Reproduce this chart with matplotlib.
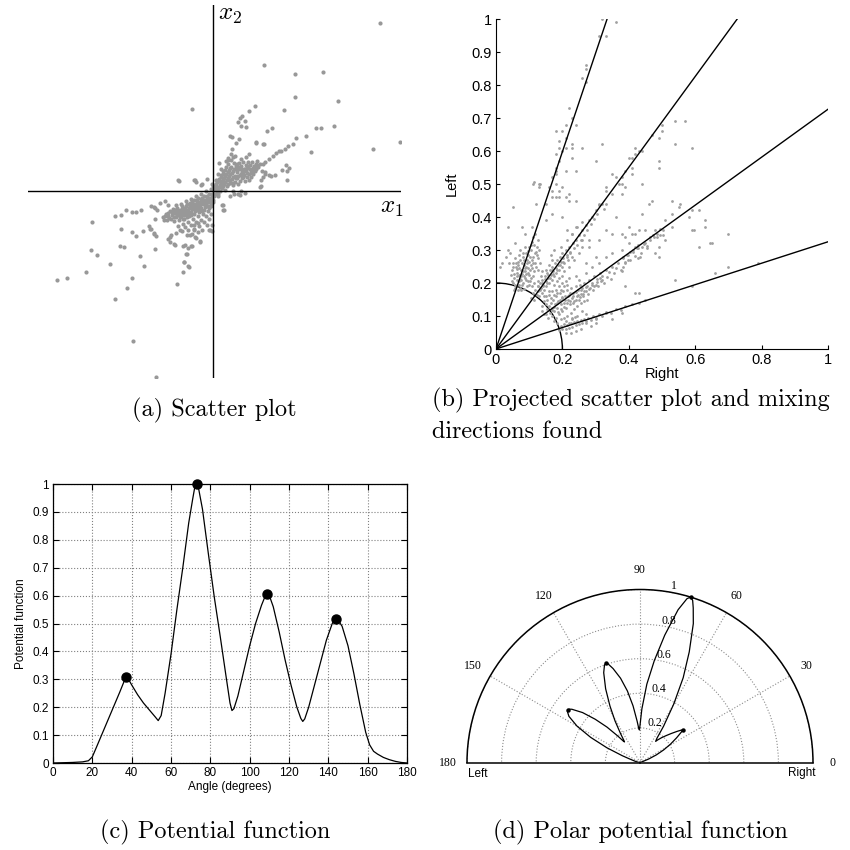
import numpy as np
import matplotlib
matplotlib.use("Agg")
import matplotlib.pyplot as plt
from matplotlib.patches import Arc

plt.rcParams['font.family'] = ['Liberation Sans', 'DejaVu Sans']
plt.rcParams['mathtext.fontset'] = 'cm'

# ---- (a) raw two-channel scatter, arbitrary units ----
scatter_outer = [
    (3.33, 3.37), (1.01, 2.53), (1.63, 2.34), (2.19, 2.39), (1.64, 1.88), (2.50, 1.81), (-0.43, 1.65),
    (0.83, 1.70), (0.71, 1.61), (1.41, 1.62), (0.58, 1.50), (0.54, 1.46), (0.63, 1.40), (0.49, 1.38),
    (0.56, 1.31), (0.66, 1.28), (1.17, 1.27), (1.08, 1.20), (2.41, 1.31), (2.06, 1.26), (2.16, 1.27),
    (1.85, 1.11), (1.66, 1.07), (1.59, 0.95), (3.19, 0.85), (3.74, 0.99), (1.95, 0.79), (0.33, 1.11),
    (0.38, 1.09), (0.51, 1.05), (0.85, 0.99), (0.99, 0.95), (0.46, 0.97), (1.49, 0.90), (1.43, 0.85),
    (1.36, 0.80), (1.31, 0.80), (1.26, 0.77), (1.19, 0.71), (1.11, 0.65), (1.03, 0.59), (0.99, 0.55),
    (1.45, 0.53), (1.51, 0.47), (1.47, 0.40), (1.38, 0.42), (1.23, 0.33), (1.16, 0.31), (1.47, 0.23),
    (1.03, 0.38), (0.99, 0.28), (0.95, 0.23), (0.96, 0.10), (-0.71, 0.22), (-0.39, 0.23), (-0.34, 0.18),
    (-0.24, 0.13), (0.39, 0.00), (0.49, -0.05), (0.56, 0.00), (0.63, -0.03), (0.19, -0.37), (0.18, -0.27),
    (0.09, -0.10), (0.33, -0.10),
    (-3.13, -1.78), (-2.93, -1.74), (-2.55, -1.61), (-2.43, -0.62), (-2.45, -1.17), (-2.32, -1.28),
    (-2.06, -1.45), (-1.97, -2.15), (-1.73, -1.93), (-1.62, -1.73), (-1.60, -3.00), (-1.15, -3.72),
    (-1.84, -0.75), (-1.86, -1.09), (-1.79, -1.11), (-1.62, -0.82), (-1.54, -0.90), (-1.47, -1.30),
    (-1.39, -1.50), (-0.73, -1.85), (-0.60, -1.61), (-0.51, -1.50), (-0.59, -1.41), (-0.54, -1.25),
    (-1.17, -1.15), (-1.97, -0.50), (-1.84, -0.47), (-1.74, -0.38), (-1.62, -0.41), (-1.55, -0.41),
    (-1.44, -0.37), (-1.41, -0.80), (-1.29, -0.70), (-1.24, -0.75), (-1.19, -0.83), (-1.14, -0.89),
    (-0.91, -0.95), (-0.86, -1.02), (-0.77, -1.07), (-0.84, -0.87), (-0.74, -0.83), (-0.67, -0.77),
    (-0.09, -0.77), (-0.02, -0.79), (-1.24, -0.30), (-1.17, -0.33), (-1.06, -0.23), (-0.97, -0.19),
    (-0.91, -0.27), (-0.61, -1.09), (-0.51, -1.13), (-0.44, -1.09), (-0.47, -0.87), (-0.34, -0.93),
    (-0.27, -1.00), (-0.39, -0.77), (-0.31, -0.63), (-1.19, -0.31), (-1.13, -0.38), (-0.99, -0.58),
    (-1.16, -0.55), (-1.26, -0.75), (-1.19, -0.85), (-0.86, -0.91), (-0.79, -1.05), (-0.56, -1.08),
    (-0.43, -1.10), (-0.59, -1.41), (-0.49, -1.51), (-0.53, -1.25), (-0.36, -0.91), (-0.26, -1.01),
    (-0.39, -0.68), (-0.06, -0.78), (-0.03, -0.68), (0.21, -0.38), (0.19, -0.28), (0.54, -0.08),
    (0.41, -0.05), (-0.69, 0.21), (-0.36, 0.23), (-0.23, 0.15), (-0.13, 0.25), (0.11, 0.57),
    (0.29, 0.63), (0.47, 0.55), (0.71, 0.75), (0.86, 0.97), (1.01, 0.95), (0.97, 0.41), (1.04, 0.35),
    (0.94, 0.09), (1.11, 0.32),
]
scatter_core = [
    (-1.00, -0.52), (-0.95, -0.45), (-0.93, -0.58), (-0.90, -0.50), (-0.87, -0.40), (-0.85, -0.55),
    (-0.82, -0.47), (-0.80, -0.36), (-0.78, -0.60), (-0.76, -0.43), (-0.74, -0.52), (-0.72, -0.33),
    (-0.70, -0.46), (-0.68, -0.58), (-0.66, -0.38), (-0.64, -0.50), (-0.62, -0.30), (-0.60, -0.42),
    (-0.58, -0.55), (-0.56, -0.34), (-0.54, -0.46), (-0.52, -0.26), (-0.50, -0.38), (-0.48, -0.50),
    (-0.46, -0.30), (-0.44, -0.42), (-0.42, -0.22), (-0.40, -0.34), (-0.38, -0.46), (-0.36, -0.26),
    (-0.34, -0.38), (-0.32, -0.18), (-0.30, -0.30), (-0.28, -0.42), (-0.26, -0.22), (-0.24, -0.34),
    (-0.22, -0.14), (-0.20, -0.26), (-0.18, -0.38), (-0.16, -0.18), (-0.14, -0.30), (-0.12, -0.10),
    (-0.10, -0.22), (-0.08, -0.34), (-0.06, -0.14), (-0.04, -0.26), (-0.02, -0.06), (0.00, -0.18),
    (-0.55, -0.20), (-0.45, -0.15), (-0.35, -0.10), (-0.25, -0.05), (-0.15, 0.00), (-0.05, 0.04),
    (-0.65, -0.25), (-0.75, -0.28), (-0.60, -0.65), (-0.50, -0.62), (-0.40, -0.55), (-0.30, -0.50),
    (-0.20, -0.45), (-0.10, -0.40), (-0.70, -0.70), (-0.57, -0.72), (-0.45, -0.68), (-0.35, -0.62),
    (-0.25, -0.58), (-0.15, -0.50), (-0.05, -0.45), (-0.62, -0.80), (-0.50, -0.78), (-0.38, -0.75),
    (-0.28, -0.70), (-0.18, -0.62), (-0.08, -0.55), (-0.52, -0.88), (-0.42, -0.85), (-0.30, -0.82),
    (-0.22, -0.78), (-0.12, -0.68),
    (-0.97, -0.50), (-0.91, -0.43), (-0.88, -0.53), (-0.83, -0.42), (-0.79, -0.52), (-0.77, -0.38),
    (-0.73, -0.47), (-0.71, -0.40), (-0.67, -0.52), (-0.65, -0.44), (-0.63, -0.36), (-0.61, -0.55),
    (-0.59, -0.48), (-0.57, -0.40), (-0.55, -0.30), (-0.53, -0.52), (-0.51, -0.44), (-0.49, -0.33),
    (-0.47, -0.23), (-0.45, -0.47), (-0.43, -0.36), (-0.41, -0.28), (-0.39, -0.18), (-0.37, -0.40),
    (-0.35, -0.32), (-0.33, -0.24), (-0.31, -0.14), (-0.29, -0.36), (-0.27, -0.28), (-0.25, -0.16),
    (-0.23, -0.40), (-0.21, -0.20), (-0.19, -0.10), (-0.17, -0.32), (-0.15, -0.24), (-0.13, -0.16),
    (-0.11, -0.30), (-0.09, -0.06), (-0.07, -0.20), (-0.05, -0.30), (-0.03, -0.12), (-0.01, -0.22),
    (-0.01, 0.03), (0.01, -0.10),
    (0.02, 0.02), (0.05, 0.10), (0.04, -0.05), (0.08, 0.18), (0.09, 0.04), (0.10, -0.06), (0.12, 0.25),
    (0.13, 0.12), (0.14, 0.00), (0.16, 0.32), (0.17, 0.20), (0.18, 0.06), (0.20, 0.40), (0.21, 0.27),
    (0.22, 0.14), (0.23, 0.02), (0.25, 0.48), (0.26, 0.35), (0.27, 0.22), (0.28, 0.10), (0.30, 0.55),
    (0.31, 0.42), (0.32, 0.30), (0.33, 0.17), (0.35, 0.62), (0.36, 0.48), (0.37, 0.36), (0.38, 0.24),
    (0.39, 0.12), (0.41, 0.56), (0.42, 0.44), (0.43, 0.31), (0.44, 0.19), (0.46, 0.50), (0.47, 0.38),
    (0.48, 0.26), (0.49, 0.14), (0.51, 0.56), (0.52, 0.44), (0.53, 0.32), (0.54, 0.20), (0.56, 0.50),
    (0.57, 0.38), (0.58, 0.26), (0.60, 0.58), (0.61, 0.45), (0.62, 0.33), (0.63, 0.21), (0.65, 0.52),
    (0.66, 0.40), (0.67, 0.28), (0.69, 0.58), (0.70, 0.46), (0.71, 0.34), (0.72, 0.22), (0.74, 0.52),
    (0.75, 0.40), (0.76, 0.28), (0.78, 0.58), (0.79, 0.46), (0.80, 0.34), (0.82, 0.50), (0.83, 0.40),
    (0.85, 0.55), (0.86, 0.44), (0.88, 0.60), (0.40, 0.68), (0.36, 0.75), (0.38, 0.85), (0.44, 0.70),
    (0.30, 0.66), (0.25, 0.60), (0.15, 0.45), (0.10, 0.35), (0.05, 0.22), (0.00, 0.10), (-0.03, 0.15),
    (0.55, 0.65), (0.65, 0.68),
    (0.03, 0.06), (0.06, 0.14), (0.07, 0.00), (0.11, 0.08), (0.11, 0.21), (0.15, 0.16), (0.15, 0.28),
    (0.19, 0.22), (0.19, 0.34), (0.19, 0.10), (0.24, 0.18), (0.24, 0.30), (0.24, 0.42), (0.29, 0.26),
    (0.29, 0.38), (0.29, 0.14), (0.34, 0.22), (0.34, 0.34), (0.34, 0.46), (0.40, 0.28), (0.40, 0.40),
    (0.40, 0.16), (0.45, 0.26), (0.45, 0.44), (0.50, 0.30), (0.50, 0.48), (0.55, 0.34), (0.55, 0.44),
    (0.60, 0.38), (0.60, 0.28), (0.64, 0.44), (0.68, 0.36), (0.68, 0.50), (0.73, 0.44), (0.77, 0.36),
    (0.81, 0.42), (0.84, 0.48), (0.87, 0.52), (0.90, 0.48), (0.93, 0.55),
]

# ---- (b) projected scatter (Right, Left) ----
proj_sparse = [
    (0.32, 1.00), (0.36, 0.99), (0.31, 0.95), (0.33, 0.95), (0.27, 0.86), (0.27, 0.85), (0.26, 0.82),
    (0.27, 0.81), (0.22, 0.73), (0.23, 0.70), (0.21, 0.68), (0.24, 0.68), (0.20, 0.66), (0.18, 0.66),
    (0.19, 0.63), (0.21, 0.64), (0.21, 0.61), (0.23, 0.62), (0.19, 0.61), (0.20, 0.60), (0.23, 0.61),
    (0.26, 0.61), (0.32, 0.62), (0.18, 0.59), (0.23, 0.58), (0.19, 0.57), (0.18, 0.55), (0.18, 0.54),
    (0.18, 0.53), (0.21, 0.54), (0.17, 0.52), (0.11, 0.50), (0.13, 0.50), (0.13, 0.49), (0.16, 0.49),
    (0.17, 0.48), (0.18, 0.50), (0.19, 0.48), (0.20, 0.49), (0.22, 0.47), (0.17, 0.46), (0.18, 0.46),
    (0.19, 0.46), (0.21, 0.46), (0.24, 0.45), (0.15, 0.44), (0.12, 0.44),
    (0.49, 0.57), (0.49, 0.64), (0.50, 0.66), (0.47, 0.65), (0.42, 0.61), (0.43, 0.60), (0.44, 0.60),
    (0.40, 0.58), (0.41, 0.55), (0.39, 0.54), (0.36, 0.52), (0.38, 0.52), (0.37, 0.50), (0.33, 0.49),
    (0.33, 0.48), (0.35, 0.47), (0.38, 0.50), (0.38, 0.47), (0.44, 0.50), (0.31, 0.44), (0.33, 0.44),
    (0.46, 0.44), (0.54, 0.69), (0.57, 0.69), (0.50, 0.68), (0.54, 0.62), (0.59, 0.61), (0.42, 0.59),
    (0.41, 0.58), (0.55, 0.43), (0.53, 0.41), (0.59, 0.42), (0.61, 0.42), (0.58, 0.40), (0.63, 0.39),
    (0.63, 0.37), (0.59, 0.36), (0.51, 0.39), (0.53, 0.37), (0.70, 0.35), (0.65, 0.32), (0.61, 0.31),
    (0.49, 0.28), (0.48, 0.29), (0.43, 0.36), (0.41, 0.35), (0.39, 0.34), (0.40, 0.32),
    (0.39, 0.19), (0.42, 0.17), (0.43, 0.17), (0.38, 0.11), (0.59, 0.19), (0.54, 0.21), (0.66, 0.23),
    (0.70, 0.25), (0.79, 0.26),
    (0.05, 0.43), (0.035, 0.37), (0.077, 0.37), (0.087, 0.35), (0.108, 0.37), (0.113, 0.505),
    (0.133, 0.50), (0.057, 0.32), (0.042, 0.29), (0.012, 0.25), (0.019, 0.26),
    (0.22, 0.45), (0.30, 0.57), (0.24, 0.54), (0.20, 0.40), (0.17, 0.41), (0.15, 0.39), (0.23, 0.35),
    (0.26, 0.33), (0.24, 0.37), (0.28, 0.31), (0.31, 0.33), (0.33, 0.36), (0.35, 0.35), (0.36, 0.40),
    (0.38, 0.35), (0.40, 0.37), (0.42, 0.35), (0.44, 0.41), (0.45, 0.36), (0.49, 0.31), (0.51, 0.33),
    (0.47, 0.45), (0.49, 0.55), (0.53, 0.45), (0.555, 0.44), (0.595, 0.36), (0.645, 0.32), (0.39, 0.49),
    (0.41, 0.53), (0.35, 0.53), (0.35, 0.09), (0.33, 0.11), (0.30, 0.09), (0.27, 0.08),
    (0.474, 0.345), (0.484, 0.340), (0.464, 0.340), (0.479, 0.360), (0.494, 0.365), (0.504, 0.360),
    (0.502, 0.345), (0.449, 0.320), (0.439, 0.310), (0.429, 0.315), (0.424, 0.305), (0.414, 0.300),
    (0.419, 0.310), (0.404, 0.295), (0.394, 0.285), (0.384, 0.280), (0.389, 0.265), (0.382, 0.250),
    (0.379, 0.235), (0.399, 0.270), (0.434, 0.280), (0.429, 0.275), (0.454, 0.312),
]
proj_dense = [
    # cloud at the foot of the steepest direction
    (0.050, 0.200), (0.055, 0.215), (0.060, 0.190), (0.062, 0.230), (0.068, 0.205), (0.070, 0.245),
    (0.072, 0.185), (0.075, 0.220), (0.078, 0.260), (0.080, 0.200), (0.082, 0.235), (0.085, 0.270),
    (0.088, 0.215), (0.090, 0.250), (0.092, 0.190), (0.095, 0.285), (0.097, 0.230), (0.100, 0.265),
    (0.102, 0.205), (0.105, 0.300), (0.108, 0.245), (0.110, 0.280), (0.112, 0.220), (0.115, 0.315),
    (0.118, 0.260), (0.120, 0.295), (0.125, 0.330), (0.128, 0.275), (0.048, 0.240), (0.052, 0.260),
    (0.058, 0.275), (0.045, 0.225), (0.065, 0.265), (0.058, 0.185), (0.066, 0.180), (0.074, 0.178),
    (0.085, 0.182), (0.095, 0.205), (0.100, 0.225), (0.105, 0.255), (0.075, 0.240), (0.083, 0.255),
    (0.070, 0.225), (0.063, 0.210), (0.088, 0.235), (0.093, 0.270), (0.098, 0.310), (0.107, 0.325),
    (0.112, 0.340), (0.118, 0.350), (0.122, 0.310), (0.130, 0.300), (0.133, 0.260), (0.125, 0.240),
    (0.115, 0.200), (0.108, 0.190), (0.053, 0.178), (0.047, 0.205), (0.080, 0.290), (0.087, 0.310),
    (0.090, 0.210), (0.097, 0.245), (0.078, 0.195), (0.060, 0.250), (0.068, 0.285), (0.072, 0.300),
    (0.103, 0.280), (0.110, 0.262), (0.040, 0.260), (0.035, 0.300), (0.030, 0.280),
    (0.057, 0.195), (0.064, 0.222), (0.071, 0.212), (0.079, 0.228), (0.086, 0.245), (0.094, 0.260),
    (0.101, 0.240), (0.109, 0.270), (0.116, 0.290), (0.123, 0.285), (0.068, 0.195), (0.076, 0.210),
    (0.083, 0.222), (0.091, 0.228), (0.099, 0.195), (0.106, 0.215), (0.113, 0.235), (0.120, 0.250),
    (0.062, 0.242), (0.066, 0.255), (0.073, 0.270), (0.081, 0.278), (0.089, 0.292), (0.096, 0.298),
    (0.104, 0.315), (0.055, 0.228), (0.051, 0.248), (0.059, 0.262),
    # band along the second direction
    (0.105, 0.155), (0.110, 0.170), (0.115, 0.150), (0.118, 0.180), (0.122, 0.165), (0.125, 0.190),
    (0.128, 0.175), (0.130, 0.160), (0.132, 0.200), (0.135, 0.185), (0.138, 0.170), (0.140, 0.210),
    (0.142, 0.195), (0.145, 0.180), (0.148, 0.220), (0.150, 0.205), (0.152, 0.190), (0.155, 0.230),
    (0.158, 0.215), (0.160, 0.200), (0.162, 0.240), (0.165, 0.225), (0.168, 0.210), (0.170, 0.250),
    (0.172, 0.235), (0.175, 0.220), (0.178, 0.260), (0.180, 0.245), (0.182, 0.230), (0.185, 0.270),
    (0.188, 0.255), (0.190, 0.240), (0.192, 0.280), (0.195, 0.265), (0.198, 0.250), (0.200, 0.290),
    (0.203, 0.275), (0.206, 0.260), (0.210, 0.300), (0.213, 0.285), (0.216, 0.270), (0.220, 0.310),
    (0.224, 0.295), (0.228, 0.280), (0.232, 0.320), (0.236, 0.305), (0.240, 0.330), (0.245, 0.315),
    (0.250, 0.345), (0.255, 0.330), (0.260, 0.360), (0.265, 0.345), (0.270, 0.375), (0.275, 0.360),
    (0.280, 0.390), (0.285, 0.380), (0.290, 0.400), (0.295, 0.395), (0.300, 0.420), (0.305, 0.410),
    (0.310, 0.435), (0.150, 0.240), (0.160, 0.255), (0.170, 0.270), (0.135, 0.220), (0.145, 0.160),
    (0.160, 0.175), (0.175, 0.195), (0.190, 0.215), (0.205, 0.235), (0.125, 0.205), (0.140, 0.235),
    (0.165, 0.285), (0.175, 0.300), (0.195, 0.310), (0.215, 0.330), (0.185, 0.205), (0.200, 0.220),
    (0.220, 0.250), (0.235, 0.270), (0.230, 0.350), (0.250, 0.290), (0.260, 0.310), (0.280, 0.330),
    (0.320, 0.440), (0.325, 0.425), (0.258, 0.385), (0.245, 0.370), (0.215, 0.360),
    (0.133, 0.178), (0.143, 0.190), (0.153, 0.200), (0.163, 0.215), (0.173, 0.228), (0.183, 0.240),
    (0.193, 0.255), (0.203, 0.265), (0.213, 0.278), (0.223, 0.290), (0.128, 0.190), (0.138, 0.200),
    (0.148, 0.212), (0.158, 0.225), (0.168, 0.240),
    # band along the third direction
    (0.150, 0.105), (0.155, 0.120), (0.158, 0.095), (0.160, 0.130), (0.163, 0.110), (0.165, 0.140),
    (0.168, 0.100), (0.170, 0.125), (0.172, 0.150), (0.175, 0.115), (0.178, 0.135), (0.180, 0.095),
    (0.182, 0.160), (0.185, 0.125), (0.188, 0.145), (0.190, 0.105), (0.192, 0.170), (0.195, 0.135),
    (0.198, 0.155), (0.200, 0.115), (0.203, 0.175), (0.206, 0.140), (0.209, 0.160), (0.212, 0.125),
    (0.215, 0.180), (0.218, 0.150), (0.221, 0.165), (0.224, 0.135), (0.227, 0.185), (0.230, 0.155),
    (0.233, 0.170), (0.236, 0.145), (0.240, 0.190), (0.243, 0.160), (0.246, 0.178), (0.250, 0.150),
    (0.253, 0.195), (0.256, 0.168), (0.260, 0.185), (0.263, 0.160), (0.266, 0.200), (0.270, 0.175),
    (0.273, 0.192), (0.277, 0.168), (0.280, 0.210), (0.284, 0.185), (0.288, 0.200), (0.292, 0.178),
    (0.296, 0.220), (0.300, 0.195), (0.304, 0.212), (0.308, 0.190), (0.312, 0.230), (0.316, 0.205),
    (0.320, 0.222), (0.325, 0.200), (0.330, 0.240), (0.335, 0.218), (0.340, 0.232), (0.345, 0.212),
    (0.350, 0.250), (0.356, 0.230), (0.362, 0.245), (0.368, 0.262), (0.375, 0.240), (0.382, 0.275),
    (0.390, 0.260), (0.398, 0.285), (0.405, 0.270), (0.412, 0.295), (0.420, 0.282), (0.428, 0.305),
    (0.436, 0.290), (0.445, 0.318), (0.455, 0.305), (0.465, 0.330), (0.475, 0.340), (0.485, 0.350),
    (0.495, 0.345), (0.140, 0.130), (0.145, 0.145), (0.150, 0.160), (0.155, 0.150), (0.160, 0.165),
    (0.165, 0.155), (0.170, 0.175), (0.175, 0.165), (0.180, 0.180), (0.185, 0.170), (0.190, 0.190),
    (0.195, 0.180), (0.200, 0.200), (0.205, 0.190), (0.210, 0.205), (0.215, 0.195), (0.220, 0.215),
    (0.150, 0.135), (0.138, 0.115), (0.145, 0.105), (0.175, 0.085), (0.185, 0.080), (0.195, 0.090),
    (0.205, 0.095), (0.215, 0.100), (0.225, 0.110), (0.235, 0.120), (0.245, 0.130), (0.255, 0.140),
    (0.265, 0.145), (0.275, 0.150), (0.228, 0.092), (0.238, 0.098), (0.210, 0.085), (0.220, 0.080),
    (0.250, 0.210), (0.270, 0.230), (0.290, 0.250), (0.310, 0.260), (0.330, 0.280), (0.300, 0.280),
    (0.350, 0.290), (0.380, 0.300), (0.270, 0.260), (0.240, 0.220),
    (0.168, 0.118), (0.176, 0.128), (0.184, 0.138), (0.192, 0.148), (0.200, 0.158), (0.208, 0.150),
    (0.216, 0.160), (0.224, 0.170), (0.232, 0.162), (0.240, 0.172), (0.248, 0.165), (0.256, 0.180),
    (0.264, 0.175), (0.272, 0.188), (0.280, 0.182), (0.288, 0.195), (0.296, 0.190), (0.304, 0.202),
    (0.312, 0.215), (0.320, 0.210), (0.186, 0.112), (0.196, 0.122), (0.206, 0.128), (0.214, 0.138),
    (0.222, 0.145), (0.232, 0.140), (0.242, 0.150), (0.252, 0.158), (0.262, 0.168),
    # band along the flattest direction
    (0.190, 0.058), (0.195, 0.070), (0.200, 0.062), (0.205, 0.075), (0.210, 0.060), (0.215, 0.072),
    (0.220, 0.065), (0.225, 0.078), (0.230, 0.068), (0.235, 0.082), (0.240, 0.072), (0.245, 0.085),
    (0.250, 0.075), (0.255, 0.088), (0.260, 0.080), (0.265, 0.092), (0.270, 0.085), (0.278, 0.095),
    (0.285, 0.088), (0.292, 0.100), (0.300, 0.095), (0.310, 0.105), (0.320, 0.100), (0.330, 0.112),
    (0.345, 0.110), (0.360, 0.120), (0.375, 0.118), (0.390, 0.130), (0.410, 0.135), (0.430, 0.140),
    (0.450, 0.148), (0.225, 0.050), (0.240, 0.055), (0.255, 0.060), (0.212, 0.048), (0.285, 0.070),
    (0.300, 0.080), (0.270, 0.105), (0.245, 0.100), (0.230, 0.095), (0.260, 0.115),
]
mixing_angles = [18, 36, 54, 71.5]
arc_radius = 0.2

# ---- (c)/(d) potential function over direction angle ----
angle_deg = [0, 5, 10, 15, 18, 20, 22, 25, 28, 31, 34, 36, 37, 38, 40, 43, 46, 49, 52, 53.5, 55, 57,
             60, 63, 66, 69, 71, 72, 73, 74, 76, 79, 82, 85, 88, 90, 91, 92, 94, 97, 100, 103, 106,
             108, 109, 110, 112, 115, 118, 121, 124, 126, 127, 128, 130, 133, 136, 139, 142, 143, 144,
             145, 147, 150, 153, 156, 159, 161, 163, 165, 168, 171, 174, 177, 180]
potential = [0.0, 0.001, 0.002, 0.004, 0.008, 0.022, 0.055, 0.105, 0.155, 0.205, 0.255, 0.29, 0.31,
             0.305, 0.28, 0.245, 0.215, 0.19, 0.165, 0.152, 0.17, 0.25, 0.39, 0.55, 0.70, 0.86, 0.945,
             0.985, 1.0, 0.985, 0.91, 0.75, 0.595, 0.455, 0.31, 0.215, 0.188, 0.195, 0.24, 0.33, 0.42,
             0.50, 0.565, 0.60, 0.606, 0.60, 0.56, 0.47, 0.37, 0.28, 0.20, 0.16, 0.149, 0.158, 0.20,
             0.28, 0.36, 0.44, 0.50, 0.512, 0.517, 0.512, 0.49, 0.42, 0.32, 0.21, 0.11, 0.065, 0.042,
             0.032, 0.02, 0.012, 0.006, 0.002, 0.0]
peak_angles = [37, 73, 109, 144]
peak_values = [0.31, 1.0, 0.606, 0.517]

x_ticks = [0, 20, 40, 60, 80, 100, 120, 140, 160, 180]
pot_ticks = [0, 0.1, 0.2, 0.3, 0.4, 0.5, 0.6, 0.7, 0.8, 0.9, 1]
proj_xticks = [0, 0.2, 0.4, 0.6, 0.8, 1]
polar_angles = [0, 30, 60, 90, 120, 150, 180]
polar_rings = [0.2, 0.4, 0.6, 0.8, 1.0]
ring_label_angle = 82

W = H = 850.0


def rect(x0, y0, x1, y1):
    # pixel box (top-left origin) -> figure fraction
    return [x0 / W, 1 - y1 / H, (x1 - x0) / W, (y1 - y0) / H]


def tick_text(v):
    return '%g' % v


cap_font = dict(family='cmr10', fontsize=17.5)
serif_small = ['Liberation Serif', 'DejaVu Serif']

fig = plt.figure(figsize=(8.5, 8.5), dpi=100)

# (a)
ax_a = fig.add_axes(rect(28, 5, 401, 378))
pts = np.array(scatter_outer + scatter_core)
ax_a.plot(pts[:, 0], pts[:, 1], 'o', color='#989898', ms=3.0, mew=0)
ax_a.axhline(0, color='k', lw=1.0)
ax_a.axvline(0, color='k', lw=1.0)
ax_a.set_xlim(-3.70, 3.76)
ax_a.set_ylim(-3.74, 3.72)
ax_a.axis('off')
ax_a.text(0.1, 3.78, r'$x_2$', ha='left', va='top', fontsize=18)
ax_a.text(3.82, -0.08, r'$x_1$', ha='right', va='top', fontsize=18)
fig.text(214 / W, 1 - 410 / H, '(a) Scatter plot', ha='center', va='center', **cap_font)

# (b)
ax_b = fig.add_axes(rect(496, 19, 828, 349))
pb = np.array(proj_sparse + proj_dense)
ax_b.plot(pb[:, 0], pb[:, 1], 'o', color='#a0a0a0', ms=2.0, mew=0)
for a in mixing_angles:
    ax_b.axline((0, 0), slope=np.tan(np.radians(a)), color='k', lw=1.0)
ax_b.add_patch(Arc((0, 0), 2 * arc_radius, 2 * arc_radius, theta1=0, theta2=90, color='k', lw=1.0))
ax_b.set_xlim(0, 1)
ax_b.set_ylim(0, 1)
ax_b.spines['top'].set_visible(False)
ax_b.spines['right'].set_visible(False)
ax_b.set_xticks(proj_xticks)
ax_b.set_xticklabels([tick_text(v) for v in proj_xticks])
ax_b.set_yticks(pot_ticks)
ax_b.set_yticklabels([tick_text(v) for v in pot_ticks])
ax_b.tick_params(direction='in', length=3, labelsize=10.5, pad=3)
ax_b.set_xlabel('Right', fontsize=10.5, labelpad=0)
ax_b.set_ylabel('Left', fontsize=10.5, labelpad=9)
fig.text(432 / W, 1 - 400 / H, '(b) Projected scatter plot and mixing', ha='left', va='center', **cap_font)
fig.text(432 / W, 1 - 432 / H, 'directions found', ha='left', va='center', **cap_font)

# (c)
ax_c = fig.add_axes(rect(53, 484, 407, 763))
ax_c.plot(angle_deg, potential, 'k-', lw=0.9)
ax_c.plot(peak_angles, peak_values, 'o', color='k', ms=6.5, clip_on=False, zorder=5)
ax_c.set_xlim(0, 180)
ax_c.set_ylim(0, 1)
ax_c.set_xticks(x_ticks)
ax_c.set_yticks(pot_ticks)
ax_c.set_yticklabels([tick_text(v) for v in pot_ticks])
ax_c.grid(True, ls=':', color='0.5', lw=0.8)
ax_c.tick_params(direction='in', length=4, labelsize=8.5, top=True, right=True, pad=3)
for s in ax_c.spines.values():
    s.set_linewidth(0.9)
ax_c.set_xlabel('Angle (degrees)', fontsize=8.5, labelpad=1)
ax_c.set_ylabel('Potential function', fontsize=8.5, labelpad=4)
fig.text(215 / W, 1 - 832 / H, '(c) Potential function', ha='center', va='center', **cap_font)

# (d) polar axes box is square; the half disc sits in its middle band
ax_d = fig.add_axes(rect(467, 503, 813, 849), projection='polar')
ax_d.set_thetamin(0)
ax_d.set_thetamax(180)
ax_d.plot(np.radians(angle_deg), potential, 'k-', lw=0.9)
ax_d.plot(np.radians(peak_angles), peak_values, 'o', color='k', ms=3.2, mew=0, clip_on=False)
ax_d.set_ylim(0, 1)
ax_d.set_thetagrids(polar_angles, [str(a) for a in polar_angles], fontsize=8.5, family=serif_small)
ax_d.set_rgrids(polar_rings, [''] * len(polar_rings))
for r in polar_rings:
    ax_d.annotate('%g' % r, xy=(np.radians(ring_label_angle), r), xytext=(7, 3.5),
                  textcoords='offset points', ha='center', va='center', fontsize=8.5,
                  family=serif_small)
ax_d.grid(True, ls=':', color='0.55', lw=0.8)
for s in ax_d.spines.values():
    s.set_linewidth(1.1)
fig.text(478 / W, 1 - 774 / H, 'Left', ha='center', va='center', fontsize=8.5)
fig.text(802 / W, 1 - 773 / H, 'Right', ha='center', va='center', fontsize=8.5)
fig.text(640 / W, 1 - 832 / H, '(d) Polar potential function', ha='center', va='center', **cap_font)

fig.savefig('out.png', dpi=100, facecolor='white')
